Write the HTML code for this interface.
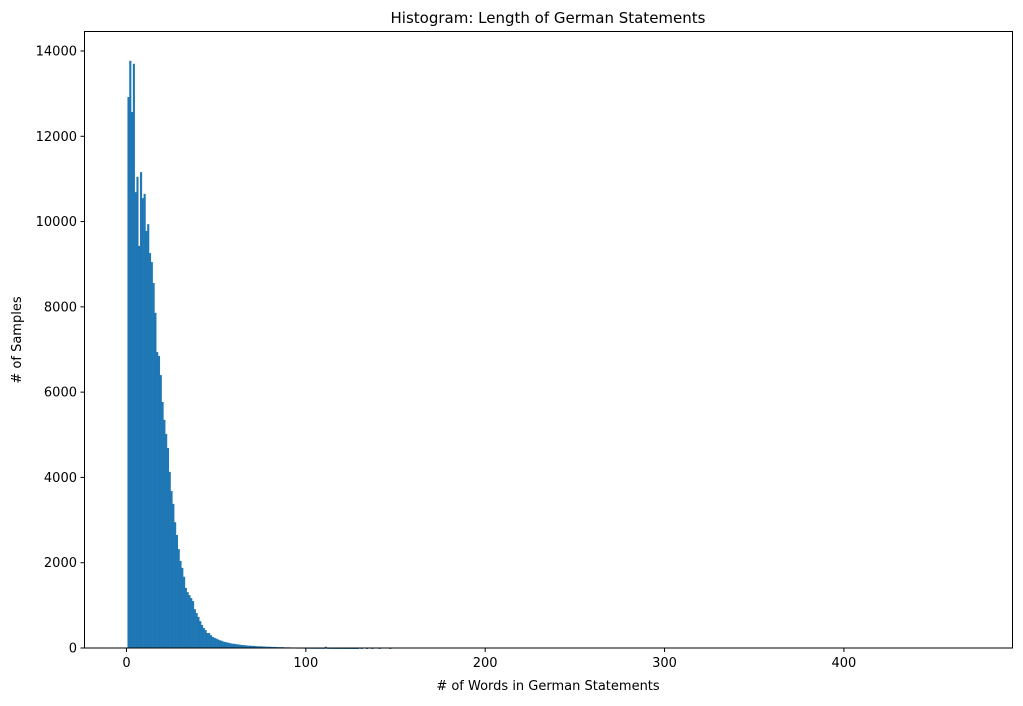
<!DOCTYPE html>
<html><head><meta charset="utf-8"><style>
body{margin:0;background:#fff;font-family:"Liberation Sans","DejaVu Sans",sans-serif;}
svg text{font-family:"DejaVu Sans","Liberation Sans",sans-serif;font-size:13px;fill:#000}
</style></head><body>
<svg id="chart" width="1023" height="701" xmlns="http://www.w3.org/2000/svg">
<text x="548" y="23" text-anchor="middle" style="font-size:15px">Histogram: Length of German Statements</text>
<g id="bars"></g>
<g id="axes"></g>
<rect x="84.5" y="31.5" width="928" height="616.5" fill="none" stroke="#000" stroke-width="1"/>
<text x="548" y="690" text-anchor="middle"># of Words in German Statements</text>
<text transform="translate(21,340) rotate(-90)" text-anchor="middle"># of Samples</text>
</svg>
<script>
const binStart = 1;
const binWidth = 1;
const counts = [12920,13770,12570,13700,10690,11050,9430,11160,10550,10650,9780,9940,9260,9050,8560,7860,
6940,6850,6400,5770,5350,5020,4690,4130,3680,3380,2950,2650,2320,2040,1880,1670,1410,1310,1240,1170,1100,910,820,730,630,540,470,420,350,350,300,260,
240,220,200,180,170,150,140,130,120,110,100,100,90,85,80,70,70,65,60,55,55,50,50,45,40,40,40,35,35,30,30,30,25,25,25,20,20,20,20,15,15,15,15,12,12,12,10,10,10,10,8,8,8,6,6,6,5,5,5,5,4,4,30,4,3,3,3,2,2,2,2,2,2,1,1,1,2,1,1,1,1,0,1,0,0,1,0,0,1,0,0,0,1,0,0,0,0,0,1];
const xTicks = [0,100,200,300,400];
const yTicks = [0,2000,4000,6000,8000,10000,12000,14000];
const xDomain = [-23.4, 494];
const yDomain = [0, 14000];

const X0=84.5, X1=1012.5, Y0=648, Y1=51;
function xs(v){return X0+(v-xDomain[0])/(xDomain[1]-xDomain[0])*(X1-X0);}
function ys(v){return Y0-(v-yDomain[0])/(yDomain[1]-yDomain[0])*(Y0-Y1);}
const NS="http://www.w3.org/2000/svg";
const bars=document.getElementById('bars');
counts.forEach((c,i)=>{
  if(c<=0) return;
  const a=binStart+i*binWidth;
  const r=document.createElementNS(NS,'rect');
  
  
  r.setAttribute('x',xs(a)-0.8);
  r.setAttribute('width',xs(a+binWidth)-xs(a)+0.3);
  r.setAttribute('y',ys(c));
  r.setAttribute('height',Math.max(ys(0)-ys(c),1));
  r.setAttribute('fill','#1f77b4');
  bars.appendChild(r);
});
const axes=document.getElementById('axes');
xTicks.forEach(t=>{
  const l=document.createElementNS(NS,'line');
  
  
  l.setAttribute('x1',xs(t));l.setAttribute('x2',xs(t));
  l.setAttribute('y1',648);l.setAttribute('y2',652);
  l.setAttribute('stroke','#000');
  axes.appendChild(l);
  const tx=document.createElementNS(NS,'text');
  
  
  tx.setAttribute('x',xs(t));tx.setAttribute('y',667);
  tx.setAttribute('text-anchor','middle');
  tx.textContent=t;
  axes.appendChild(tx);
});
yTicks.forEach(t=>{
  const l=document.createElementNS(NS,'line');
  
  
  l.setAttribute('x1',80.5);l.setAttribute('x2',84.5);
  l.setAttribute('y1',ys(t));l.setAttribute('y2',ys(t));
  l.setAttribute('stroke','#000');
  axes.appendChild(l);
  const tx=document.createElementNS(NS,'text');
  
  
  tx.setAttribute('x',77);tx.setAttribute('y',ys(t)+4.5);
  tx.setAttribute('text-anchor','end');
  tx.textContent=t;
  axes.appendChild(tx);
});
</script>
</body></html>
